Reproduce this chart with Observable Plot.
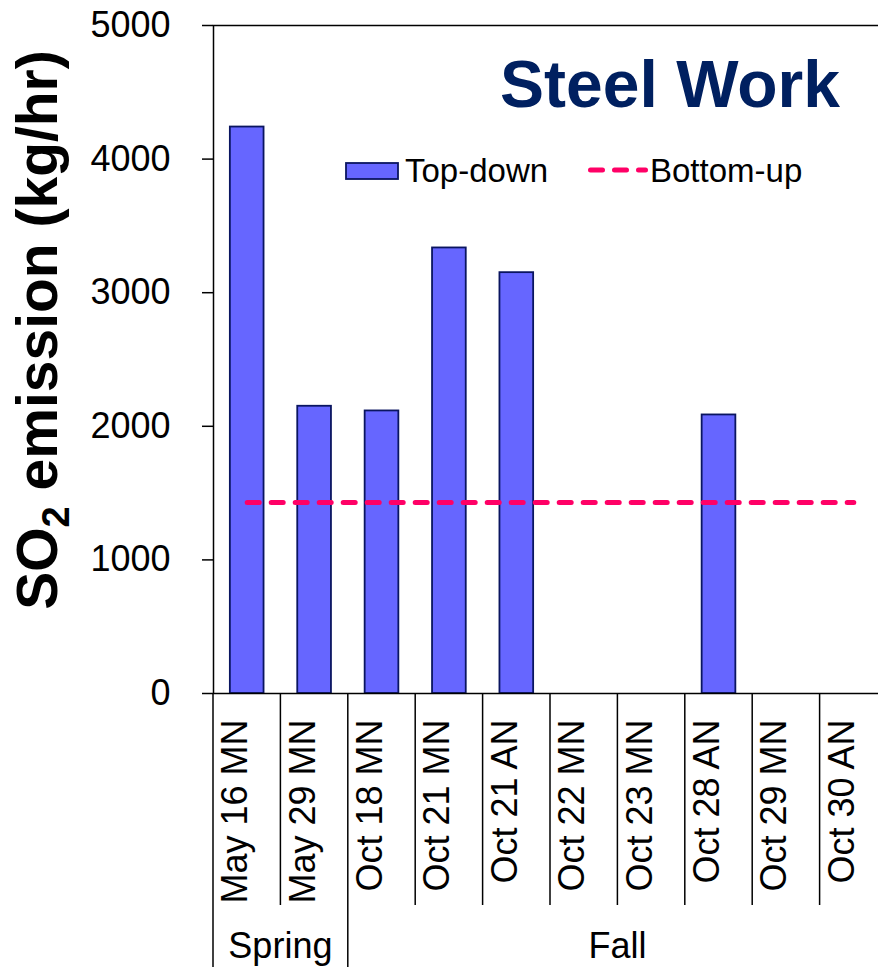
<!DOCTYPE html>
<html>
<head>
<meta charset="utf-8">
<script src="https://cdn.jsdelivr.net/npm/d3@7"></script>
<script src="https://cdn.jsdelivr.net/npm/@observablehq/plot@0.6"></script>
<style>
  html, body { margin: 0; padding: 0; background: white; overflow: hidden; }
  #chart { width: 878px; height: 967px; position: relative; }
</style>
</head>
<body>
<div id="chart"></div>
<script>
// ---- data ----
const categories = ["May 16 MN","May 29 MN","Oct 18 MN","Oct 21 MN","Oct 21 AN","Oct 22 MN","Oct 23 MN","Oct 28 AN","Oct 29 MN","Oct 30 AN"];
const topDown = [4240, 2150, 2115, 3335, 3150, null, null, 2085, null, null];
const bottomUp = 1430;
const seasons = ["Spring","Fall"];
const seasonOf = ["Spring","Spring","Fall","Fall","Fall","Fall","Fall","Fall","Fall","Fall"];
const yTicks = [0, 1000, 2000, 3000, 4000, 5000];
const seriesNames = ["Top-down", "Bottom-up"];
const chartTitle = "Steel Work";

const rows = categories.map((c, i) => ({cat: c, td: topDown[i], season: seasonOf[i]}));

const FONT = "'Liberation Sans', Arial, Helvetica, sans-serif";
const barFill = "#6666FF", barStroke = "#0A1560", lineColor = "#FF0066";

const plot = Plot.plot({
  width: 878,
  height: 967,
  marginLeft: 213,
  marginRight: -9,
  marginTop: 25,
  marginBottom: 274,
  style: {fontFamily: FONT, fontSize: "36px", color: "black", background: "white", overflow: "visible"},
  x: {domain: categories, paddingInner: 0.5, paddingOuter: 0.25, round: false, axis: null},
  y: {domain: [0, 5000], axis: null},
  marks: [
    Plot.barY(rows.filter(d => d.td != null), {x: "cat", y: "td", fill: barFill, stroke: barStroke, strokeWidth: 1.8}),
    Plot.lineY(categories, {x: d => d, y: () => bottomUp, stroke: lineColor, strokeWidth: 5, strokeDasharray: "12,12", strokeLinecap: "round"}),
    Plot.frame({stroke: "black", strokeWidth: 1.5}),
    Plot.axisY({ticks: yTicks, label: null, tickSize: 11, tickPadding: 32, fontSize: 36, tickFormat: d => String(d), stroke: "black", strokeWidth: 1.5}),
    Plot.text(categories, {x: d => d, frameAnchor: "bottom", rotate: -90, textAnchor: "end", dy: 26, fontSize: 36, fill: "black"})
  ]
});

document.getElementById("chart").appendChild(plot);

// ---- extras drawn with the plot's own scales ----
const svg = d3.select(plot);
const sx = plot.scale("x");
const sy = plot.scale("y");
const center = c => sx.apply(c) + sx.bandwidth / 2;
const y0 = sy.apply(0);
const labelRowBottom = 905, seasonRowBottom = 967;

const g = svg.append("g").attr("stroke", "black").attr("stroke-width", 1.5);
categories.forEach((c, i) => {
  const xb = center(c) - sx.step / 2;
  const full = i === 0 || seasonOf[i] !== seasonOf[i - 1];
  g.append("line").attr("x1", xb).attr("x2", xb).attr("y1", y0).attr("y2", full ? seasonRowBottom : labelRowBottom);
});

seasons.forEach(s => {
  const cs = categories.filter((c, i) => seasonOf[i] === s).map(center);
  const cx = (d3.min(cs) + d3.max(cs)) / 2;
  svg.append("text").attr("x", cx).attr("y", 958).attr("text-anchor", "middle")
    .attr("font-family", FONT).attr("font-size", 36).attr("fill", "black").text(s);
});

// title
svg.append("text").attr("x", 840).attr("y", 107).attr("text-anchor", "end")
  .attr("font-family", FONT).attr("font-size", 66).attr("font-weight", "bold")
  .attr("fill", "#002060").text(chartTitle);

// legend
const lg = svg.append("g").attr("font-family", FONT).attr("font-size", 33).attr("fill", "black").attr("text-anchor", "start");
lg.append("rect").attr("x", 346).attr("y", 163).attr("width", 52).attr("height", 16)
  .attr("fill", barFill).attr("stroke", barStroke).attr("stroke-width", 1.8);
lg.append("text").attr("x", 405).attr("y", 182).attr("text-anchor", "start").text(seriesNames[0]);
lg.append("line").attr("x1", 590.5).attr("x2", 645.5).attr("y1", 170).attr("y2", 170)
  .attr("stroke", lineColor).attr("stroke-width", 5).attr("stroke-dasharray", "12,12").attr("stroke-linecap", "round");
lg.append("text").attr("x", 650).attr("y", 182).attr("text-anchor", "start").text(seriesNames[1]);

// y-axis title
const yt = svg.append("text").attr("transform", "translate(57,330) rotate(-90)")
  .attr("text-anchor", "middle").attr("font-family", FONT).attr("font-size", 57)
  .attr("font-weight", "bold").attr("fill", "black");
yt.append("tspan").text("SO");
yt.append("tspan").attr("font-size", 38).attr("dy", 12).text("2");
yt.append("tspan").attr("dy", -12).text(" emission (kg/hr)");
</script>
</body>
</html>
